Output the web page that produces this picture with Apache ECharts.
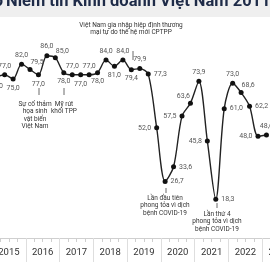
<!DOCTYPE html>
<html>
<head>
<meta charset="utf-8">
<script src="https://cdn.jsdelivr.net/npm/echarts@6/dist/echarts.min.js"></script>
<style>html,body{margin:0;padding:0;background:#fff;}#c{width:270px;height:270px;}</style>
</head>
<body>
<div id="c"></div>
<script>
const years = ['2015','2016','2017','2018','2019','2020','2021','2022','2023'];
const quarterNames = ['Q1','Q2','Q3','Q4'];
const quarters = [];
years.forEach(y => quarterNames.forEach(q => quarters.push(y + ' ' + q)));
const bci = [76.0, 77.0, 75.0, 82.0,
             79.5, 77.0, 86.0, 85.0,
             78.0, 77.0, 77.0, 77.0,
             78.0, 84.0, 81.0, 84.0,
             79.4, 79.9, 77.3, 52.0,
             26.7, 33.6, 57.5, 63.6,
             73.9, 45.8, 18.3, 61.0,
             73.0, 68.6, 62.2, 48.0,
             48.6];
const labelPos = ['bottom','top','bottom','top','topRight','bottom','top','topRight',
                  'bottom','top','bottom','top','bottom','top','bottom','top',
                  'bottom','top','right','left','right','right','left','topLeft',
                  'top','left','right','right','top','topRight','right','left','top'];

function labelCfg(p) {
  if (p === 'topRight') return {position: 'top', offset: [7, 2]};
  if (p === 'topLeft') return {position: 'top', offset: [-7, 2]};
  return {position: p};
}

const chart = echarts.init(document.getElementById('c'), null, {renderer:'canvas'});
const FONT = 'Roboto, "Noto Sans", sans-serif';
const annFont = {fontFamily: FONT, fontSize: 6.5, fill: '#333', align: 'center', verticalAlign: 'top', lineHeight: 7.2};

function ann(x, y, text) {
  return {type:'text', x:x, y:y, style: Object.assign({text:text}, annFont)};
}
function mark(x, y1, y2) {
  return {type:'line', shape:{x1:x, y1:y1, x2:x, y2:y2}, style:{stroke:'#444', lineWidth:0.8}};
}

chart.setOption({
  animation: false,
  grid: {left: -8, width: 304, top: 26, height: 212, outerBoundsMode: 'none', containLabel: false},
  xAxis: [{
    type: 'category', data: quarters, position: 'bottom', boundaryGap: true,
    axisLine: {show: true, lineStyle: {color: '#cfcfcf', width: 1}},
    axisTick: {show: true, length: 4, interval: 0, lineStyle: {color: '#cfcfcf'}},
    axisLabel: {show: false}, splitLine: {show: false}
  }, {
    type: 'category', data: years, position: 'bottom', boundaryGap: true,
    axisLine: {show: false},
    axisTick: {show: true, length: 24, interval: 0, lineStyle: {color: '#dedede'}},
    axisLabel: {show: true, interval: 0, margin: 10, fontSize: 9.5, color: '#333', fontFamily: FONT},
    splitLine: {show: false}
  }],
  yAxis: {type: 'value', min: 0, max: 100, show: false, splitLine: {show: false}},
  series: [{
    type: 'line', xAxisIndex: 0,
    data: bci.map((v, i) => ({value: v, label: labelCfg(labelPos[i])})),
    smooth: 0.3,
    symbol: 'circle', symbolSize: 5,
    lineStyle: {color: '#222', width: 1.4},
    itemStyle: {color: '#111'},
    label: {show: true, fontSize: 7, color: '#555', fontFamily: FONT, distance: 3,
      formatter: p => p.value.toFixed(1).replace('.', ',')}
  }],
  graphic: [
    {type:'rect', shape:{x:0, y:0, width:270, height:17}, style:{fill:'#efefef'}},
    {type:'text', x:3, y:10, style:{text:'Chỉ số', fontFamily: FONT, fontWeight:'bold', fontSize:16.5, fill:'#1e2b48', align:'right', verticalAlign:'bottom'}},
    {type:'text', x:6, y:10, style:{text:'Niềm tin Kinh doanh Việt Nam 2011-2023', fontFamily: FONT, fontWeight:'bold', fontSize:16.5, fill:'#1e2b48', align:'left', verticalAlign:'bottom'}},
    ann(131, 22, 'Việt Nam gia nhập hiệp định thương\nmại tự do thế hệ mới CPTPP'),
    mark(133, 51, 60),
    mark(39, 88, 95),
    ann(35, 101, 'Sự cố thảm\nhọa sinh\nvật biển\nViệt Nam'),
    mark(64, 88, 95),
    ann(64, 101, 'Mỹ rút\nkhối TPP'),
    mark(166, 188, 193),
    ann(165, 195, 'Lần đầu tiên\nphong tỏa vì dịch\nbệnh COVID-19'),
    mark(217, 203, 208),
    ann(217, 211, 'Lần thứ 4\nphong tỏa vì dịch\nbệnh COVID-19')
  ]
});
</script>
</body>
</html>
